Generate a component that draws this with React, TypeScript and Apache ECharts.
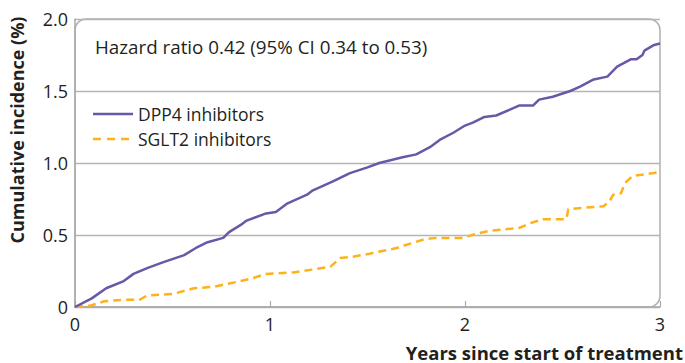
import React, { useEffect, useRef } from "react";
import * as echarts from "echarts";

const dppYears = [0, 0.086, 0.16, 0.25, 0.3, 0.37, 0.45, 0.56, 0.62, 0.68, 0.76, 0.79, 0.85, 0.88, 0.98, 1.03, 1.09, 1.19, 1.22, 1.32, 1.41, 1.5, 1.56, 1.68, 1.75, 1.82, 1.87, 1.94, 2.0, 2.04, 2.1, 2.16, 2.23, 2.28, 2.35, 2.38, 2.45, 2.54, 2.59, 2.66, 2.73, 2.78, 2.85, 2.88, 2.91, 2.92, 2.97, 3.0];
const dppValues = [0, 0.06, 0.13, 0.18, 0.23, 0.27, 0.31, 0.36, 0.41, 0.45, 0.48, 0.52, 0.57, 0.6, 0.65, 0.66, 0.72, 0.78, 0.81, 0.87, 0.93, 0.97, 1.0, 1.04, 1.06, 1.11, 1.16, 1.21, 1.26, 1.28, 1.32, 1.33, 1.37, 1.4, 1.4, 1.44, 1.46, 1.5, 1.53, 1.58, 1.6, 1.67, 1.72, 1.72, 1.75, 1.78, 1.82, 1.83];

const sgltYears = [0, 0.08, 0.15, 0.25, 0.33, 0.37, 0.5, 0.61, 0.71, 0.78, 0.85, 0.91, 0.98, 1.12, 1.22, 1.31, 1.36, 1.43, 1.51, 1.65, 1.79, 1.85, 1.99, 2.06, 2.13, 2.28, 2.33, 2.4, 2.52, 2.53, 2.71, 2.74, 2.76, 2.8, 2.82, 2.86, 2.97, 3.0];
const sgltValues = [0, 0.01, 0.04, 0.05, 0.05, 0.08, 0.09, 0.13, 0.14, 0.16, 0.18, 0.2, 0.23, 0.24, 0.26, 0.28, 0.34, 0.35, 0.37, 0.41, 0.47, 0.48, 0.48, 0.51, 0.53, 0.55, 0.58, 0.61, 0.61, 0.68, 0.7, 0.73, 0.78, 0.79, 0.86, 0.91, 0.93, 0.94];

const seriesNames = ["DPP4 inhibitors", "SGLT2 inhibitors"];
const annotation = "Hazard ratio 0.42 (95% CI 0.34 to 0.53)";
const yAxisTitle = "Cumulative incidence (%)";
const xAxisTitle = "Years since start of treatment";

const FONT = "'Open Sans', 'Noto Sans', sans-serif";
const PURPLE = "#6a57a8";
const ORANGE = "#fdb21c";
const TEXT = "#231f20";

const SOLID_ICON = "path://M0,0h40v2.6h-40z";
const DASH_ICON = "path://M0,0h8v2.6h-8z M14,0h8v2.6h-8z M28,0h8v2.6h-8z M40,0h0.01v2.6h-0.01z";

export default function App() {
  const ref = useRef<HTMLDivElement>(null);
  useEffect(() => {
    if (!ref.current) return;
    const chart = echarts.init(ref.current, null, { renderer: "svg" });
    const gridL = 75, gridT = 19, gridR = 25, gridB = 56;
    chart.setOption({
      animation: false,
      textStyle: { fontFamily: FONT },
      grid: { left: gridL, top: gridT, right: gridR, bottom: gridB },
      xAxis: {
        type: "value",
        min: 0,
        max: 3,
        interval: 1,
        axisLine: { show: true, lineStyle: { color: "#aaaaaa", width: 1.5 } },
        axisTick: { show: true, inside: true, length: 6, lineStyle: { color: "#aaaaaa", width: 1.2 } },
        axisLabel: { color: TEXT, fontSize: 18, fontFamily: FONT, margin: 8 },
        splitLine: { show: false },
      },
      yAxis: {
        type: "value",
        min: 0,
        max: 2,
        interval: 0.5,
        axisLine: { show: true, lineStyle: { color: "#aaaaaa", width: 1.5 } },
        axisTick: { show: false },
        axisLabel: {
          color: TEXT,
          fontSize: 18,
          fontFamily: FONT,
          margin: 7,
          formatter: (v: number) => (v === 0 ? "0" : v.toFixed(1)),
        },
        splitLine: { show: true, lineStyle: { color: "#b5b5b5", width: 1.3 } },
      },
      legend: {
        orient: "vertical",
        left: 93,
        top: 104,
        padding: 0,
        itemWidth: 40,
        itemHeight: 2.6,
        itemGap: 5,
        textStyle: { color: TEXT, fontSize: 17.5, lineHeight: 20, fontFamily: FONT },
        data: [
          { name: seriesNames[0], icon: SOLID_ICON },
          { name: seriesNames[1], icon: DASH_ICON },
        ],
      },
      graphic: [
        {
          type: "rect",
          z: -1,
          silent: true,
          shape: { x: gridL, y: gridT, width: 685 - gridR - gridL, height: 363 - gridB - gridT, r: [11, 11, 11, 0] },
          style: { fill: "none", stroke: "#b0b0b0", lineWidth: 1.5 },
        },
        {
          type: "text",
          x: 95,
          y: 47,
          style: { text: annotation, fill: TEXT, font: `18.8px ${FONT}`, verticalAlign: "middle" },
        },
        {
          type: "text",
          x: 17,
          y: 130,
          rotation: Math.PI / 2,
          style: {
            text: yAxisTitle,
            fill: TEXT,
            font: `bold 18px ${FONT}`,
            align: "center",
            verticalAlign: "middle",
          },
        },
        {
          type: "text",
          x: 683,
          y: 352,
          style: { text: xAxisTitle, fill: TEXT, font: `bold 18.5px ${FONT}`, align: "right", verticalAlign: "middle" },
        },
      ],
      series: [
        {
          name: seriesNames[0],
          type: "line",
          showSymbol: false,
          symbol: "none",
          lineStyle: { color: PURPLE, width: 2.5 },
          itemStyle: { color: PURPLE },
          data: dppYears.map((t, i) => [t, dppValues[i]]),
          z: 3,
        },
        {
          name: seriesNames[1],
          type: "line",
          showSymbol: false,
          symbol: "none",
          lineStyle: { color: ORANGE, width: 2.5, type: [8, 5] },
          itemStyle: { color: ORANGE },
          data: sgltYears.map((t, i) => [t, sgltValues[i]]),
          z: 2,
        },
      ],
    });
    return () => chart.dispose();
  }, []);
  return (
    <div
      ref={ref}
      style={{ position: "fixed", left: 0, top: 0, width: 685, height: 363, background: "#fff" }}
    />
  );
}
